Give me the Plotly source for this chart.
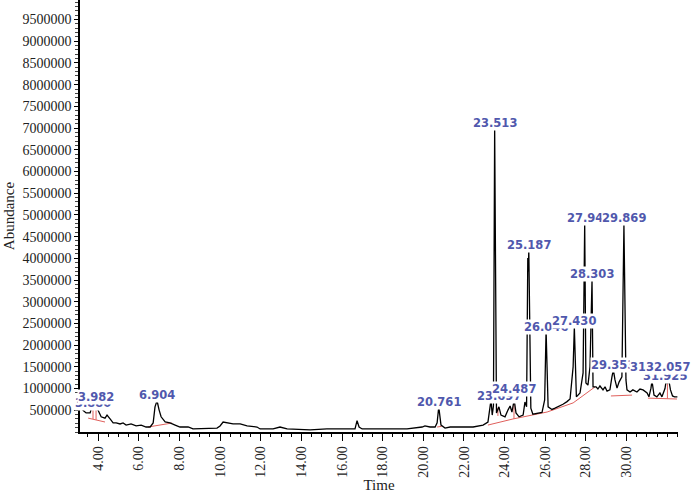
import plotly.graph_objects as go

# ---- chromatogram trace (retention time in min, abundance) ----
time_min = [
    3.12, 3.21, 3.26, 3.41, 3.61, 3.70, 3.75, 3.82, 3.90, 4.00,
    4.15, 4.34, 4.44, 4.59, 4.74, 4.89, 5.08, 5.23, 5.38, 5.62,
    5.87, 6.12, 6.36, 6.56, 6.71, 6.80, 6.90, 7.00, 7.10, 7.30,
    7.54, 7.79, 8.03, 8.43, 8.67, 9.85, 10.00, 10.15, 10.35, 10.64,
    10.99, 11.33, 11.82, 11.97, 12.61, 12.95, 13.30, 14.43, 15.26, 16.05,
    16.64, 16.74, 16.84, 16.99, 18.22, 19.20, 19.94, 20.08, 20.33, 20.58,
    20.68, 20.76, 20.87, 21.07, 21.32, 22.45, 22.94, 23.18, 23.33, 23.39,
    23.45, 23.51, 23.60, 23.72, 23.82, 24.02, 24.17, 24.27, 24.36, 24.47,
    24.56, 24.71, 24.91, 25.00, 25.08, 25.14, 25.165, 25.19, 25.29, 25.39,
    25.59, 25.84, 25.97, 26.04, 26.14, 26.33, 26.48, 26.73, 26.87, 27.07,
    27.22, 27.37, 27.43, 27.53, 27.71, 27.86, 27.94, 28.00, 28.10, 28.20,
    28.30, 28.35, 28.50, 28.59, 28.69, 28.84, 28.94, 29.04, 29.18, 29.28,
    29.35, 29.43, 29.53, 29.63, 29.77, 29.87, 29.97, 30.02, 30.17, 30.31,
    30.51, 30.66, 30.81, 31.01, 31.10, 31.20, 31.25, 31.35, 31.49, 31.64,
    31.74, 31.89, 31.96, 32.01, 32.06, 32.16, 32.26, 32.36, 32.50,
]
abundance = [
    680000, 560000, 500000, 440000, 440000, 600000, 620000, 530000, 620000, 500000,
    350000, 320000, 390000, 300000, 210000, 210000, 185000, 210000, 160000, 185000,
    140000, 160000, 115000, 115000, 210000, 580000, 720000, 510000, 350000, 230000,
    210000, 160000, 115000, 115000, 70000, 90000, 140000, 230000, 210000, 185000,
    185000, 140000, 115000, 70000, 70000, 115000, 70000, 50000, 70000, 70000,
    70000, 260000, 115000, 70000, 70000, 70000, 115000, 140000, 115000, 115000,
    210000, 580000, 160000, 90000, 115000, 115000, 160000, 230000, 740000, 390000,
    600000, 7000000, 440000, 580000, 390000, 350000, 510000, 600000, 460000, 740000,
    440000, 350000, 390000, 690000, 580000, 4010000, 3700000, 4190000, 550000, 410000,
    420000, 450000, 740000, 2350000, 580000, 520000, 550000, 600000, 640000, 700000,
    760000, 1500000, 2420000, 810000, 900000, 1360000, 4790000, 1130000, 1080000, 1500000,
    3500000, 1040000, 1040000, 990000, 1060000, 970000, 1040000, 940000, 970000, 1270000,
    1430000, 1200000, 1010000, 1150000, 1270000, 4770000, 1200000, 970000, 920000, 970000,
    920000, 990000, 970000, 900000, 810000, 1010000, 1180000, 850000, 810000, 900000,
    810000, 1000000, 1220000, 1120000, 1240000, 970000, 830000, 810000, 810000,
]

# ---- integration baselines / drop lines (red) ----
base_time = [3.51, 4.34, None, 3.75, 3.75, None, 3.90, 3.90, None,
             6.46, 7.64, None, 20.68, 20.90, None,
             23.18, 24.41, 26.09, 27.37, 28.45, None,
             23.67, 23.67, None, 24.46, 24.46, None,
             29.23, 30.27, None, 31.05, 32.48, None, 32.01, 32.01]
base_abund = [320000, 230000, None, 300000, 600000, None, 280000, 600000, None,
              115000, 207000, None, 115000, 130000, None,
              160000, 300000, 460000, 670000, 1040000, None,
              370000, 560000, None, 300000, 720000, None,
              830000, 850000, None, 780000, 760000, None, 770000, 1120000]

# ---- peak labels (drawn in this order; later ones on top) ----
peak_text = ["3.880", "3.982", "6.904", "20.761", "23.697", "24.487", "23.513",
             "25.187", "26.046", "27.430", "27.94", "29.869", "28.303", "29.353",
             "31.925", "31.250", "32.057"]
peak_rt = [3.75, 3.90, 6.90, 20.76, 23.72, 24.47, 23.51,
           25.19, 26.04, 27.43, 27.94, 29.87, 28.30, 29.35,
           31.89, 31.25, 32.06]
peak_apex = [620000, 620000, 720000, 580000, 580000, 740000, 7000000,
             4190000, 2350000, 2420000, 4790000, 4770000, 3500000, 1430000,
             1000000, 1180000, 1240000]

# ---- axis ticks ----
x_tick_vals = [4, 6, 8, 10, 12, 14, 16, 18, 20, 22, 24, 26, 28, 30]
x_tick_text = ["4.00", "6.00", "8.00", "10.00", "12.00", "14.00", "16.00",
               "18.00", "20.00", "22.00", "24.00", "26.00", "28.00", "30.00"]
y_tick_vals = [500000 * k for k in range(1, 20)]
y_tick_text = [str(v) for v in y_tick_vals]

# label vertical offsets (px) – styling
label_yshift = [2, 8, 6, 5, 11, 11, 5, 5, 3, 6, 6, 7, 6, 5, 13, 14, 11]

fig = go.Figure()
fig.add_trace(go.Scatter(x=base_time, y=base_abund, mode="lines",
                         line=dict(color="#e0605c", width=1), hoverinfo="skip",
                         showlegend=False, connectgaps=False))
fig.add_trace(go.Scatter(x=time_min, y=abundance, mode="lines",
                         line=dict(color="black", width=1.3), showlegend=False))

for txt, rt, ap, ys in zip(peak_text, peak_rt, peak_apex, label_yshift):
    fig.add_annotation(x=rt, y=ap, text="<b>" + txt + "</b>", showarrow=False, yshift=ys,
                       xanchor="center", yanchor="middle",
                       font=dict(family="DejaVu Sans", size=11.5, color="#5058ad"),
                       bgcolor="white", borderpad=0)

serif = "Liberation Serif"
fig.update_layout(
    width=693, height=493,
    margin=dict(l=80, r=15, t=0, b=61),
    paper_bgcolor="white", plot_bgcolor="white",
    showlegend=False,
    xaxis=dict(range=[3.11, 32.53], tickvals=x_tick_vals, ticktext=x_tick_text,
               tickangle=-90, ticks="outside", ticklen=7, tickcolor="black",
               showline=True, linecolor="black", linewidth=1.5, showgrid=False,
               zeroline=False, automargin=False,
               minor=dict(dtick=0.5, ticks="outside", ticklen=3, tickcolor="black"),
               tickfont=dict(family=serif, size=14, color="#222"),
               title=dict(text="Time", font=dict(family=serif, size=15, color="#222"),
                          standoff=6)),
    yaxis=dict(range=[0, 9950000], tickvals=y_tick_vals, ticktext=y_tick_text,
               ticks="outside", ticklen=4, tickcolor="black",
               showline=True, linecolor="black", linewidth=1.5, showgrid=False,
               zeroline=False, automargin=False,
               minor=dict(dtick=100000, ticks="outside", ticklen=3, tickcolor="#444"),
               tickfont=dict(family=serif, size=14, color="#222"),
               title=dict(text="Abundance", font=dict(family=serif, size=15, color="#222"),
                          standoff=4)),
)

fig.write_html("out.html", config={"displayModeBar": False},
               post_script="document.body.style.margin='0';")
